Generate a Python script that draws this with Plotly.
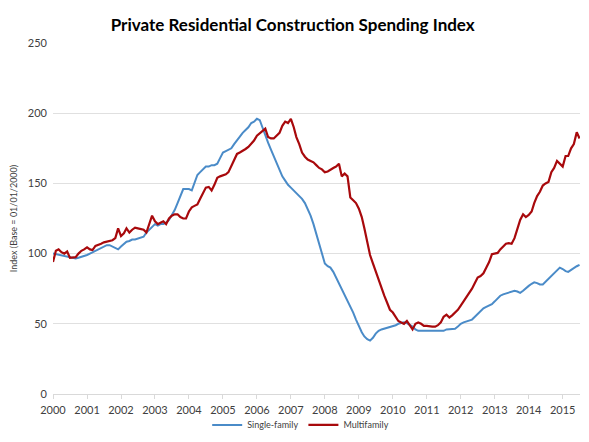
import pandas as pd
import plotly.graph_objects as go

# monthly index values, Jan 2000 - Jul 2015 (base = 01/01/2000)
months = pd.date_range("2000-01-01", periods=187, freq="MS")

single_family = [
    100, 99.5, 99, 98.5, 98, 97.5, 97, 96.5, 96.5, 97, 97.5, 98,            # 2000
    99, 100, 101, 102, 103, 104, 105, 106, 106, 105, 104, 103,              # 2001
    105, 107, 108.5, 109, 110, 110, 110.5, 111, 112, 115, 117, 119,         # 2002
    121, 120, 121, 121, 122, 124, 127, 131, 136, 141, 146, 146,             # 2003
    146, 145, 150, 156, 158, 160, 162, 162, 163, 163, 164, 168,             # 2004
    172, 173, 174, 175, 178, 181, 183, 186, 188, 190, 193, 194,             # 2005
    196, 195, 190, 184, 179, 174, 169, 165, 160, 155, 152, 149,             # 2006
    147, 145, 143, 141, 139, 136, 132, 127, 121, 114, 106, 100,             # 2007
    93, 91, 90, 87, 83, 79, 75, 71, 67, 63, 58, 53,                         # 2008
    48, 44, 41, 39, 38, 40, 43, 45, 46, 46.5, 47, 48,                       # 2009
    48.5, 49, 50, 50.5, 51, 50.5, 49.5, 48, 46, 45, 45, 45,                 # 2010
    45, 45, 45, 44.5, 44.5, 44.5, 45, 46, 46, 46, 46.5, 48,                 # 2011
    50, 51, 51.5, 52, 53, 55, 57, 59.5, 61, 62, 63, 64,                     # 2012
    66, 68.5, 70, 71, 71.5, 72, 72.5, 73.5, 73, 72, 73.5, 75.5,             # 2013
    77, 78.5, 79.5, 79, 78, 78, 80, 82.5, 84.5, 86.5, 88.5, 90,             # 2014
    89, 87.5, 87, 88.5, 90, 91, 92,                                         # 2015
]

multifamily = [
    94, 102, 103, 101, 100, 101.5, 97, 97, 97.5, 100, 102, 103,             # 2000
    104.5, 103, 102.5, 105.5, 106, 107, 108, 108.5, 109, 109.5, 111, 118,   # 2001
    112.5, 114.5, 118, 115, 117, 118.5, 118, 117.5, 117, 115, 121, 127,     # 2002
    123, 121, 122, 123, 121, 125, 127, 128, 128, 126, 125, 125,             # 2003
    130, 133, 134, 135, 139, 143, 147, 147.5, 145, 149, 154, 155,           # 2004
    155.5, 156.5, 158, 162, 166, 171, 172, 173, 174.5, 176, 178, 180.5,     # 2005
    184, 185.5, 187.5, 189, 183, 182, 182, 184, 186, 191, 194, 193,         # 2006
    196, 190, 183, 178, 172, 169, 167, 166, 165, 163, 161, 160,             # 2007
    158, 158.5, 160, 161, 162, 164, 155, 157, 155, 140, 138, 136,           # 2008
    132, 126, 118, 108, 99, 93, 87, 81, 76, 70, 65, 60,                     # 2009
    58, 55, 52, 51, 50, 52, 49, 46, 50, 51, 50, 48.5,                       # 2010
    48.5, 48, 48, 48, 49, 51, 55, 56.5, 54.5, 56, 58, 60,                   # 2011
    63, 66, 68.5, 72, 75, 79, 83, 84, 86, 90, 94, 99.5,                     # 2012
    100, 100.5, 103, 105, 107, 107.5, 107, 111, 118.5, 124, 128, 126,       # 2013
    127.5, 130, 136, 141, 144, 148.5, 150, 151, 158, 161, 166, 164,         # 2014
    162, 169.5, 169.5, 175, 178, 186.5, 182,                                # 2015
]

year_ticks = [f"{y}-01-01" for y in range(2000, 2016)]
year_labels = [str(y) for y in range(2000, 2016)]

fig = go.Figure()
fig.add_trace(go.Scatter(x=months, y=single_family, mode="lines", name="Single-family",
                         line=dict(color="#4a8bc8", width=2)))
fig.add_trace(go.Scatter(x=months, y=multifamily, mode="lines", name="Multifamily",
                         line=dict(color="#a8090c", width=2.2)))

# page body adds an 8px margin, so the figure is sized a bit smaller than the window
fig.update_layout(
    width=581, height=434,
    margin=dict(l=45, r=9, t=35, b=48, autoexpand=False),
    paper_bgcolor="white", plot_bgcolor="white",
    font=dict(family="Lato, Open Sans, sans-serif", color="#404040"),
    title=dict(text="<b>Private Residential Construction Spending Index</b>",
               x=0.49, xanchor="center", y=0.961, yanchor="middle",
               font=dict(size=17, color="#000000")),
    showlegend=True,
    legend=dict(orientation="h", x=0.47, xanchor="center", y=-0.088, yanchor="middle",
                font=dict(size=9, color="#404040"), itemwidth=30,
                bgcolor="rgba(0,0,0,0)"),
)
fig.update_xaxes(
    type="date", range=["2000-01-01", "2015-07-06"],
    tickvals=year_ticks, ticktext=year_labels,
    showgrid=False, zeroline=False, automargin=False,
    showline=True, linecolor="#d9d9d9", linewidth=1,
    ticks="outside", ticklen=4, tickcolor="#d9d9d9",
    tickfont=dict(size=11, color="#404040"), ticklabelstandoff=2,
)
fig.update_yaxes(
    range=[0, 250], dtick=50, automargin=False,
    showgrid=True, gridcolor="#e0e0e0", gridwidth=1,
    zeroline=False, showline=False,
    tickfont=dict(size=11, color="#404040"), ticklabelstandoff=5,
    title=dict(text="Index (Base = 01/01/2000)", font=dict(size=9, color="#404040"), standoff=10),
)

fig.write_html("out.html")
